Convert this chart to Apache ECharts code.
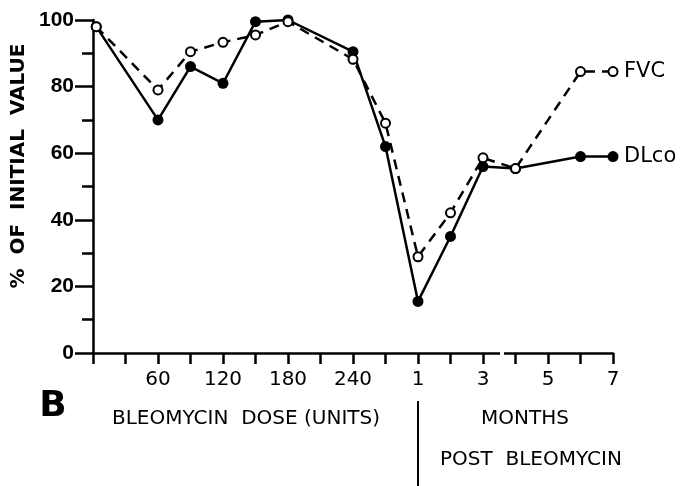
<!DOCTYPE html>
<html>
<head>
<meta charset="utf-8">
<script src="https://cdn.jsdelivr.net/npm/echarts@6/dist/echarts.min.js"></script>
<style>
  html, body { margin: 0; padding: 0; background: #fff; }
  #chart { width: 680px; height: 486px; }
</style>
</head>
<body>
<div id="chart"></div>
<script>
// x position of each reading: 0..9 = dose steps of 30 units, 10..16 = months 1..7
var xPos = [0.1, 2, 3, 4, 5, 6, 8, 9, 10, 11, 12, 13, 15, 16]
var fvcValues = [98, 79, 90.5, 93.3, 95.5, 99.5, 88.2, 69, 28.9, 42.1, 58.6, 55.4, 84.5, 84.5]
var dlcoValues = [98, 70, 86, 81, 99.5, 100, 90.5, 62, 15.5, 35, 56, 55.4, 59, 59]
var xTickLabels = ['', '', '60', '', '120', '', '180', '', '240', '', '1', '', '3', '', '5', '', '7']
var yTickLabels = ['0', '20', '40', '60', '80', '100']

var FONT = 'DejaVu Sans'

function pairs (vals) {
  return vals.map(function (v, i) { return [xPos[i], v] })
}

var myChart = echarts.init(document.getElementById('chart'))
myChart.setOption({
  animation: false,
  backgroundColor: '#fff',
  grid: {
    left: 93,
    right: 67,
    top: 20,
    bottom: 133,
    outerBoundsMode: 'none'
  },
  xAxis: {
    type: 'value',
    min: 0,
    max: 16,
    interval: 1,
    splitLine: { show: false },
    axisLine: { lineStyle: { color: '#000', width: 2.5 } },
    axisTick: { length: 11, lineStyle: { color: '#000', width: 2.5 } },
    axisLabel: {
      margin: 17,
      color: '#000',
      fontFamily: FONT,
      fontSize: 20,
      formatter: function (v) { return xTickLabels[v] || '' }
    }
  },
  yAxis: {
    type: 'value',
    min: 0,
    max: 100,
    interval: 20,
    splitLine: { show: false },
    axisLine: { show: true, lineStyle: { color: '#000', width: 2.5 } },
    axisTick: { length: 18, lineStyle: { color: '#000', width: 2.5 } },
    minorTick: { show: true, splitNumber: 2, length: 11, lineStyle: { color: '#000', width: 2.5 } },
    axisLabel: {
      margin: 19,
      color: '#000',
      fontFamily: 'Liberation Sans',
      fontWeight: 'bold',
      fontSize: 21,
      formatter: function (v) { return yTickLabels[v / 20] }
    }
  },
  graphic: [
    {
      // small break in the x axis line between months 3 and 4
      type: 'rect',
      shape: { x: 500, y: 349, width: 4, height: 7 },
      style: { fill: '#fff' },
      z: 100
    },
    {
      type: 'text',
      x: 19,
      y: 166,
      rotation: Math.PI / 2,
      style: {
        text: '%  OF  INITIAL  VALUE',
        fontFamily: FONT,
        fontWeight: 'bold',
        fontSize: 20,
        fill: '#000',
        align: 'center',
        verticalAlign: 'middle'
      }
    },
    {
      type: 'text', x: 53, y: 407,
      style: { text: 'B', fontFamily: FONT, fontWeight: 'bold', fontSize: 36, fill: '#000', align: 'center', verticalAlign: 'middle' }
    },
    {
      type: 'text', x: 246, y: 419,
      style: { text: 'BLEOMYCIN  DOSE (UNITS)', fontFamily: FONT, fontSize: 20, fill: '#000', align: 'center', verticalAlign: 'middle' }
    },
    {
      type: 'text', x: 525, y: 419,
      style: { text: 'MONTHS', fontFamily: FONT, fontSize: 20, fill: '#000', align: 'center', verticalAlign: 'middle' }
    },
    {
      type: 'text', x: 531, y: 460,
      style: { text: 'POST  BLEOMYCIN', fontFamily: FONT, fontSize: 20, fill: '#000', align: 'center', verticalAlign: 'middle' }
    },
    {
      type: 'line',
      shape: { x1: 418, y1: 401, x2: 418, y2: 486 },
      style: { stroke: '#000', lineWidth: 2 }
    }
  ],
  series: [
    {
      name: 'FVC',
      type: 'line',
      data: pairs(fvcValues),
      symbol: 'circle',
      symbolSize: 9,
      z: 3,
      lineStyle: { color: '#000', width: 2.5, type: [10, 7] },
      itemStyle: { color: '#fff', borderColor: '#000', borderWidth: 2 },
      endLabel: {
        show: true,
        distance: 11,
        formatter: 'FVC',
        color: '#000',
        fontFamily: FONT,
        fontSize: 21
      }
    },
    {
      name: 'DLco',
      type: 'line',
      data: pairs(dlcoValues),
      symbol: 'circle',
      symbolSize: 11,
      z: 2,
      lineStyle: { color: '#000', width: 2.5 },
      itemStyle: { color: '#000' },
      endLabel: {
        show: true,
        distance: 11,
        formatter: 'DLco',
        color: '#000',
        fontFamily: FONT,
        fontSize: 21
      }
    }
  ]
})
</script>
</body>
</html>
